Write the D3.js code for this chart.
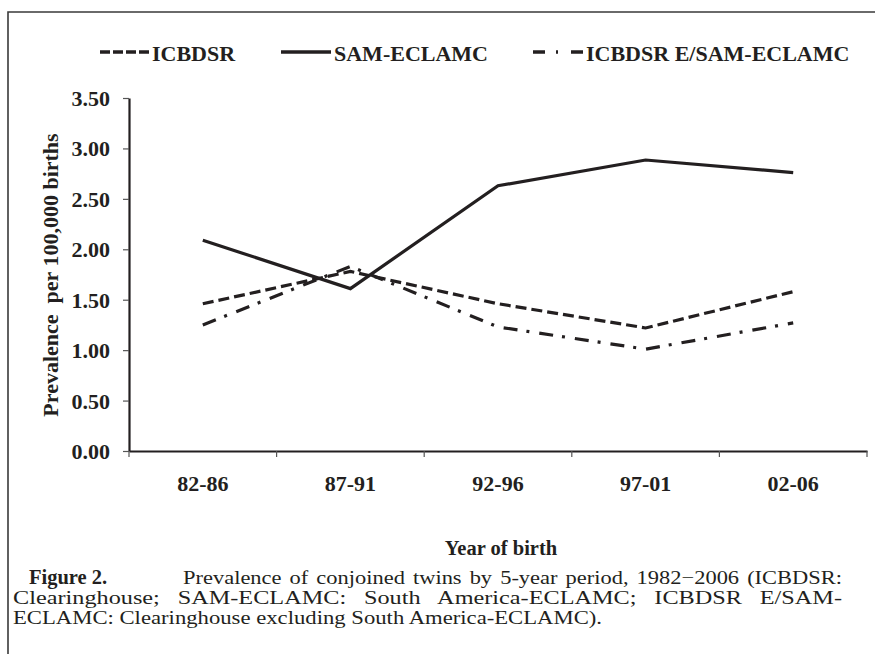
<!DOCTYPE html>
<html>
<head>
<meta charset="utf-8">
<script src="https://cdn.jsdelivr.net/npm/d3@7"></script>
<style>
  body { margin: 0; background: #fff; }
  svg text { fill: #231f20; }
  .bold { font-family: "Liberation Serif", "Times New Roman", serif; font-weight: bold; }
  .caption { font-family: "Liberation Serif", "Times New Roman", serif; font-size: 18.5px; }
</style>
</head>
<body>
<div class="chart"></div>
<script>
// data
const periods = ["82-86", "87-91", "92-96", "97-01", "02-06"];
const icbdsr = [1.46, 1.78, 1.46, 1.22, 1.58];
const samEclamc = [2.09, 1.61, 2.63, 2.885, 2.76];
const icbdsrExcl = [1.25, 1.83, 1.23, 1.01, 1.27];
const yTicks = [0, 0.5, 1, 1.5, 2, 2.5, 3, 3.5];
const seriesNames = ["ICBDSR", "SAM-ECLAMC", "ICBDSR E/SAM-ECLAMC"];

const width = 875, height = 654;
const ink = "#231f20";

let svg = d3
    .select(".chart")
    .append("svg")
    .attr("width", width)
    .attr("height", height);

// frame (only top + left visible in the crop)
svg.append("path")
    .attr("d", "M8,654 L8,12 L875,12")
    .attr("fill", "none")
    .attr("stroke", "#3a3a3a")
    .attr("stroke-width", 1.6);

let xScale = d3.scaleBand()
    .domain(periods)
    .range([129, 867]);

let yScale = d3.scaleLinear()
    .domain([0, 3.5])
    .range([451, 98]);

//=== axes ===
let yAxis = d3.axisLeft(yScale)
    .tickValues(yTicks)
    .tickFormat(d3.format(".2f"))
    .tickSizeInner(6)
    .tickSizeOuter(0)
    .tickPadding(13);

let gy = svg.append("g")
    .attr("class", "axis y-axis")
    .attr("transform", `translate(${xScale.range()[0]},0)`)
    .call(yAxis);

gy.select(".domain").attr("stroke", ink).attr("stroke-width", 2.2);
gy.selectAll(".tick line").attr("stroke", "#555").attr("stroke-width", 1.2);
gy.selectAll(".tick text")
    .attr("class", "bold")
    .attr("font-size", 22)
    .attr("dy", "0.34em");

let xAxis = d3.axisBottom(xScale)
    .tickSize(0)
    .tickPadding(24);

let gx = svg.append("g")
    .attr("class", "axis x-axis")
    .attr("transform", `translate(0,${yScale(0)})`)
    .call(xAxis);

gx.select(".domain").attr("stroke", ink).attr("stroke-width", 2.2);
gx.selectAll(".tick text")
    .attr("class", "bold")
    .attr("font-size", 22)
    .attr("dy", "0.71em");

// tick marks sit on the band edges
let edges = periods.map(p => xScale(p)).concat([xScale.range()[1]]);
gx.selectAll(".edge")
    .data(edges)
    .join("line")
    .attr("class", "edge")
    .attr("x1", d => d).attr("x2", d => d)
    .attr("y1", 0).attr("y2", 6)
    .attr("stroke", "#555")
    .attr("stroke-width", 1.2);

// axis titles
svg.append("text")
    .attr("class", "bold")
    .attr("font-size", 20.5)
    .attr("text-anchor", "middle")
    .attr("x", 501)
    .attr("y", 555)
    .text("Year of birth");

svg.append("text")
    .attr("class", "bold")
    .attr("font-size", 22)
    .attr("text-anchor", "middle")
    .attr("transform", "translate(58,275) rotate(-90)")
    .style("white-space", "pre")
    .attr("xml:space", "preserve")
    .text("Prevalence  per 100,000 births");

//=== lines ===
const series = [
    { name: seriesNames[0], values: icbdsr, dash: "11,5" },
    { name: seriesNames[1], values: samEclamc, dash: null },
    { name: seriesNames[2], values: icbdsrExcl, dash: "14,9,3,10" }
];

let line = d3.line()
    .x((d, i) => xScale(periods[i]) + xScale.bandwidth() / 2)
    .y(d => yScale(d));

svg.selectAll(".series")
    .data(series)
    .join("path")
    .attr("class", "series")
    .attr("fill", "none")
    .attr("stroke", ink)
    .attr("stroke-width", 3.2)
    .attr("stroke-dasharray", d => d.dash)
    .attr("d", d => line(d.values));

//=== legend ===
const legend = [
    { name: seriesNames[0], x1: 100, x2: 149, tx: 152, dash: "10,3" },
    { name: seriesNames[1], x1: 281, x2: 331, tx: 334, dash: null },
    { name: seriesNames[2], x1: 533, x2: 583, tx: 586, dash: "12,11,2,13" }
];

let lg = svg.append("g").attr("class", "legend");

lg.selectAll("line")
    .data(legend)
    .join("line")
    .attr("x1", d => d.x1).attr("x2", d => d.x2)
    .attr("y1", 52).attr("y2", 52)
    .attr("stroke", ink)
    .attr("stroke-width", 3.4)
    .attr("stroke-dasharray", d => d.dash);

lg.selectAll("text")
    .data(legend)
    .join("text")
    .attr("class", "bold")
    .attr("font-size", 22)
    .attr("x", d => d.tx)
    .attr("y", 61)
    .text(d => d.name);

//=== caption ===
let cap = svg.append("g");

cap.append("text")
    .attr("class", "bold")
    .attr("font-size", 20.5)
    .attr("x", 29)
    .attr("y", 584)
    .text("Figure 2.");

// caption face is wider than Times: stretch glyphs a bit, extra word gaps on the justified lines
const capLines = [
    { x: 183, y: 584, len: 659, ws: 2, text: "Prevalence of conjoined twins by 5-year period, 1982\u22122006 (ICBDSR:" },
    { x: 13, y: 604, len: 829, ws: 9, text: "Clearinghouse; SAM-ECLAMC: South America-ECLAMC; ICBDSR E/SAM-" },
    { x: 13, y: 624, len: 589, ws: 0, text: "ECLAMC: Clearinghouse excluding South America-ECLAMC)." }
];

cap.selectAll(".caption")
    .data(capLines)
    .join("text")
    .attr("class", "caption")
    .attr("x", d => d.x)
    .attr("y", d => d.y)
    .attr("word-spacing", d => d.ws)
    .attr("textLength", d => d.len)
    .attr("lengthAdjust", "spacingAndGlyphs")
    .text(d => d.text);
</script>
</body>
</html>
